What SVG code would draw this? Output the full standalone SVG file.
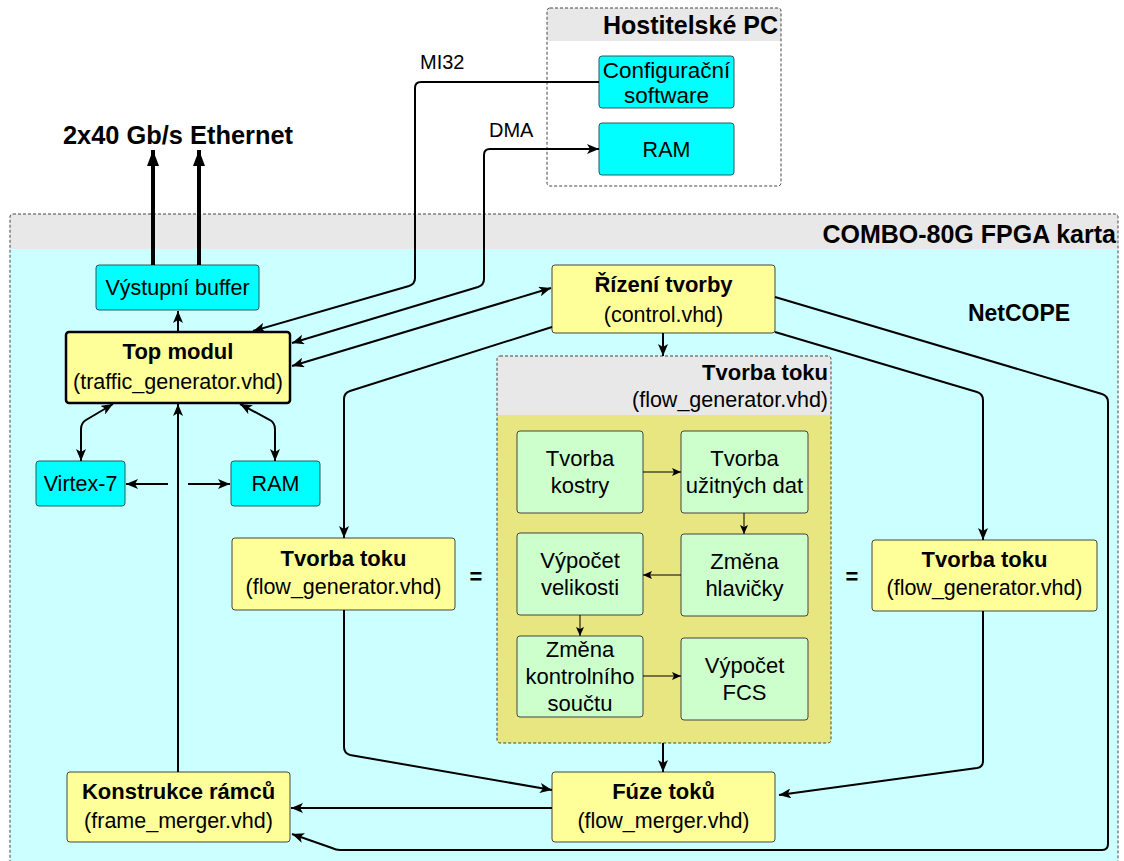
<svg xmlns="http://www.w3.org/2000/svg" width="1124" height="861" viewBox="0 0 1124 861">
<style>
text{font-family:"Liberation Sans",Arial,sans-serif;fill:#000}
.t{font-size:21.5px;text-anchor:middle}
.b{font-size:22px;font-weight:bold;text-anchor:middle}
.big{font-size:25px;font-weight:bold}
.g{font-size:22px;text-anchor:middle}
.end{text-anchor:end}
.cy{fill:#00FFFF;stroke:#2a5a5a;stroke-width:1}
.ye{fill:#FFFF99;stroke:#444;stroke-width:1}
.gr{fill:#CCFFCC;stroke:#444;stroke-width:1}
.dash{fill:none;stroke:#444;stroke-width:1;stroke-dasharray:3,2}
.c{fill:none;stroke:#000;stroke-width:2}
.ci{fill:none;stroke:#000;stroke-width:1}
</style>
<defs>
<marker id="a" markerUnits="userSpaceOnUse" viewBox="0 0 12 10" refX="12" refY="5" markerWidth="12" markerHeight="10" orient="auto-start-reverse">
<path d="M0,0 L12,5 L0,10 L3,5 z" fill="#000"/>
</marker>
<marker id="s" markerUnits="userSpaceOnUse" viewBox="0 0 9 8" refX="9" refY="4" markerWidth="9" markerHeight="8" orient="auto">
<path d="M0,0 L9,4 L0,8 L2,4 z" fill="#000"/>
</marker>
<marker id="e" markerUnits="userSpaceOnUse" viewBox="0 0 16 12" refX="16" refY="6" markerWidth="16" markerHeight="12" orient="auto">
<path d="M0,0 L16,6 L0,12 z" fill="#000"/>
</marker>
</defs>

<g id="host">
<rect x="547" y="8" width="234" height="178" rx="3" fill="#fff"/>
<rect x="547" y="8" width="234" height="33" fill="#E8E8E8"/>
<rect x="547" y="8" width="234" height="178" rx="3" class="dash"/>
<text x="778" y="34" class="big end">Hostitelské PC</text>
</g>
<g id="combo">
<rect x="10" y="214" width="1108" height="660" rx="3" fill="#CCFFFF"/>
<rect x="10" y="214" width="1108" height="35" fill="#E8E8E8"/>
<rect x="10" y="214" width="1108" height="660" rx="3" class="dash"/>
<text x="1116" y="243" class="big end">COMBO-80G FPGA karta</text>
<text x="1019" y="321" font-size="23" font-weight="bold" text-anchor="middle">NetCOPE</text>
</g>
<text id="ethernet" x="63" y="144" class="big" style="font-size:25.4px">2x40 Gb/s Ethernet</text>

<g id="config"><rect x="599" y="56" width="135" height="52" rx="3" class="cy"/>
<text x="666.5" y="78" class="t" style="font-size:22.5px">Configurační</text><text x="666.5" y="103" class="t" style="font-size:22.5px">software</text></g>
<g id="hostram"><rect x="599" y="123" width="135" height="52" rx="3" class="cy"/>
<text x="666.5" y="157" class="t">RAM</text></g>

<g id="buffer"><rect x="96" y="265" width="163" height="45" rx="3" class="cy"/>
<text x="177.5" y="295" class="t">Výstupní buffer</text></g>
<g id="top"><rect x="66" y="332" width="224" height="71" rx="3" fill="#FFFF99" stroke="#000" stroke-width="2.5"/>
<text x="178" y="359" class="b">Top modul</text><text x="178" y="389" class="t">(traffic_generator.vhd)</text></g>
<g id="virtex"><rect x="36" y="461" width="89" height="45" rx="3" class="cy"/>
<text x="80.5" y="491" class="t">Virtex-7</text></g>
<g id="fpgaram"><rect x="231" y="461" width="89" height="45" rx="3" class="cy"/>
<text x="275.5" y="491" class="t">RAM</text></g>
<g id="rizeni"><rect x="552" y="265" width="223" height="68" rx="3" class="ye"/>
<text x="663.5" y="292" class="b">Řízení tvorby</text><text x="663.5" y="322" class="t">(control.vhd)</text></g>
<g id="tvorbaL"><rect x="232" y="538" width="223" height="72" rx="3" class="ye"/>
<text x="343.5" y="566" class="b">Tvorba toku</text><text x="343.5" y="594" class="t">(flow_generator.vhd)</text></g>
<text x="476" y="584" class="b">=</text>
<g id="tvorbaR"><rect x="872" y="540" width="225" height="71" rx="3" class="ye"/>
<text x="984.5" y="567" class="b">Tvorba toku</text><text x="984.5" y="595" class="t">(flow_generator.vhd)</text></g>
<text x="852" y="584" class="b">=</text>
<g id="fuze"><rect x="552" y="772" width="223" height="70" rx="3" class="ye"/>
<text x="663.5" y="799" class="b">Fúze toků</text><text x="663.5" y="828" class="t">(flow_merger.vhd)</text></g>
<g id="konstrukce"><rect x="67" y="772" width="223" height="70" rx="3" class="ye"/>
<text x="178.5" y="799" class="b">Konstrukce rámců</text><text x="178.5" y="828" class="t">(frame_merger.vhd)</text></g>

<g id="inner">
<rect x="497" y="356" width="334" height="387" rx="3" fill="#E8E680"/>
<rect x="497" y="356" width="334" height="59" fill="#E8E8E8"/>
<rect x="497" y="356" width="334" height="387" rx="3" class="dash"/>
<text x="828" y="380" class="b" style="text-anchor:end">Tvorba toku</text>
<text x="828" y="407" class="t" style="text-anchor:end">(flow_generator.vhd)</text>
</g>
<g id="kostra"><rect x="517" y="431" width="126" height="82" rx="3" class="gr"/>
<text x="580" y="466" class="g">Tvorba</text><text x="580" y="493" class="g">kostry</text></g>
<g id="uzitna"><rect x="681" y="431" width="127" height="82" rx="3" class="gr"/>
<text x="744.5" y="466" class="g">Tvorba</text><text x="744.5" y="493" class="g">užitných dat</text></g>
<g id="hlavicka"><rect x="681" y="534" width="127" height="82" rx="3" class="gr"/>
<text x="744.5" y="569" class="g">Změna</text><text x="744.5" y="596" class="g">hlavičky</text></g>
<g id="velikost"><rect x="517" y="533" width="126" height="82" rx="3" class="gr"/>
<text x="580" y="568" class="g">Výpočet</text><text x="580" y="595" class="g">velikosti</text></g>
<g id="kontrolni"><rect x="517" y="636" width="126" height="81" rx="3" class="gr"/>
<text x="580" y="657" class="g">Změna</text><text x="580" y="684" class="g">kontrolního</text><text x="580" y="711" class="g">součtu</text></g>
<g id="fcs"><rect x="681" y="638" width="127" height="82" rx="3" class="gr"/>
<text x="744.5" y="673" class="g">Výpočet</text><text x="744.5" y="700" class="g">FCS</text></g>

<g id="connectors">
<path d="M153,265 V150" fill="none" stroke="#000" stroke-width="4" marker-end="url(#e)"/>
<path d="M199,265 V150" fill="none" stroke="#000" stroke-width="4" marker-end="url(#e)"/>
<path class="c" d="M599,82 H421 Q415,82 415,88 V278 Q415,284 409,286 L253,331" marker-end="url(#a)"/>
<text x="420" y="69" font-size="20">MI32</text>
<path class="c" d="M292,343 L478,287 Q484,285 484,279 V155 Q484,149 490,149 H599" marker-start="url(#a)" marker-end="url(#a)"/>
<text x="489" y="137" font-size="20">DMA</text>
<path class="c" d="M292,366 L551,288" marker-start="url(#a)" marker-end="url(#a)"/>
<path class="c" d="M552,327 L350,391 Q344,393 344,399 V538" marker-end="url(#a)"/>
<path class="c" d="M775,332 L977,392 Q983,394 983,400 V540" marker-end="url(#a)"/>
<path class="c" d="M775,297 L1102,394 Q1108,396 1108,402 V844 Q1108,850 1102,850 H340 Q336,850 332,848 L292,834" marker-end="url(#a)"/>
<path class="c" d="M663,333 V356" marker-end="url(#a)"/>
<path class="c" d="M663,743 V772" marker-end="url(#a)"/>
<path class="c" d="M344,610 V747 Q344,753 350,755 L552,790" marker-end="url(#a)"/>
<path class="c" d="M983,611 V761 Q983,767 977,768 L779,795" marker-end="url(#a)"/>
<path class="c" d="M552,808 H291" marker-end="url(#a)"/>
<path class="c" d="M178,772 V404" marker-end="url(#a)"/>
<path class="c" d="M178,332 V311" marker-end="url(#a)"/>
<path class="c" d="M168,484 H126" marker-end="url(#a)"/>
<path class="c" d="M188,484 H230" marker-end="url(#a)"/>
<path class="c" d="M113,404 L86,420 Q81,423 81,429 V461" marker-start="url(#a)" marker-end="url(#a)"/>
<path class="c" d="M240,404 L270,420 Q275,423 275,429 V461" marker-start="url(#a)" marker-end="url(#a)"/>
<path class="ci" d="M643,472 H681" marker-end="url(#s)"/>
<path class="ci" d="M744,513 V534" marker-end="url(#s)"/>
<path class="ci" d="M681,575 H643" marker-end="url(#s)"/>
<path class="ci" d="M580,615 V636" marker-end="url(#s)"/>
<path class="ci" d="M643,676 H681" marker-end="url(#s)"/>
</g>
</svg>
